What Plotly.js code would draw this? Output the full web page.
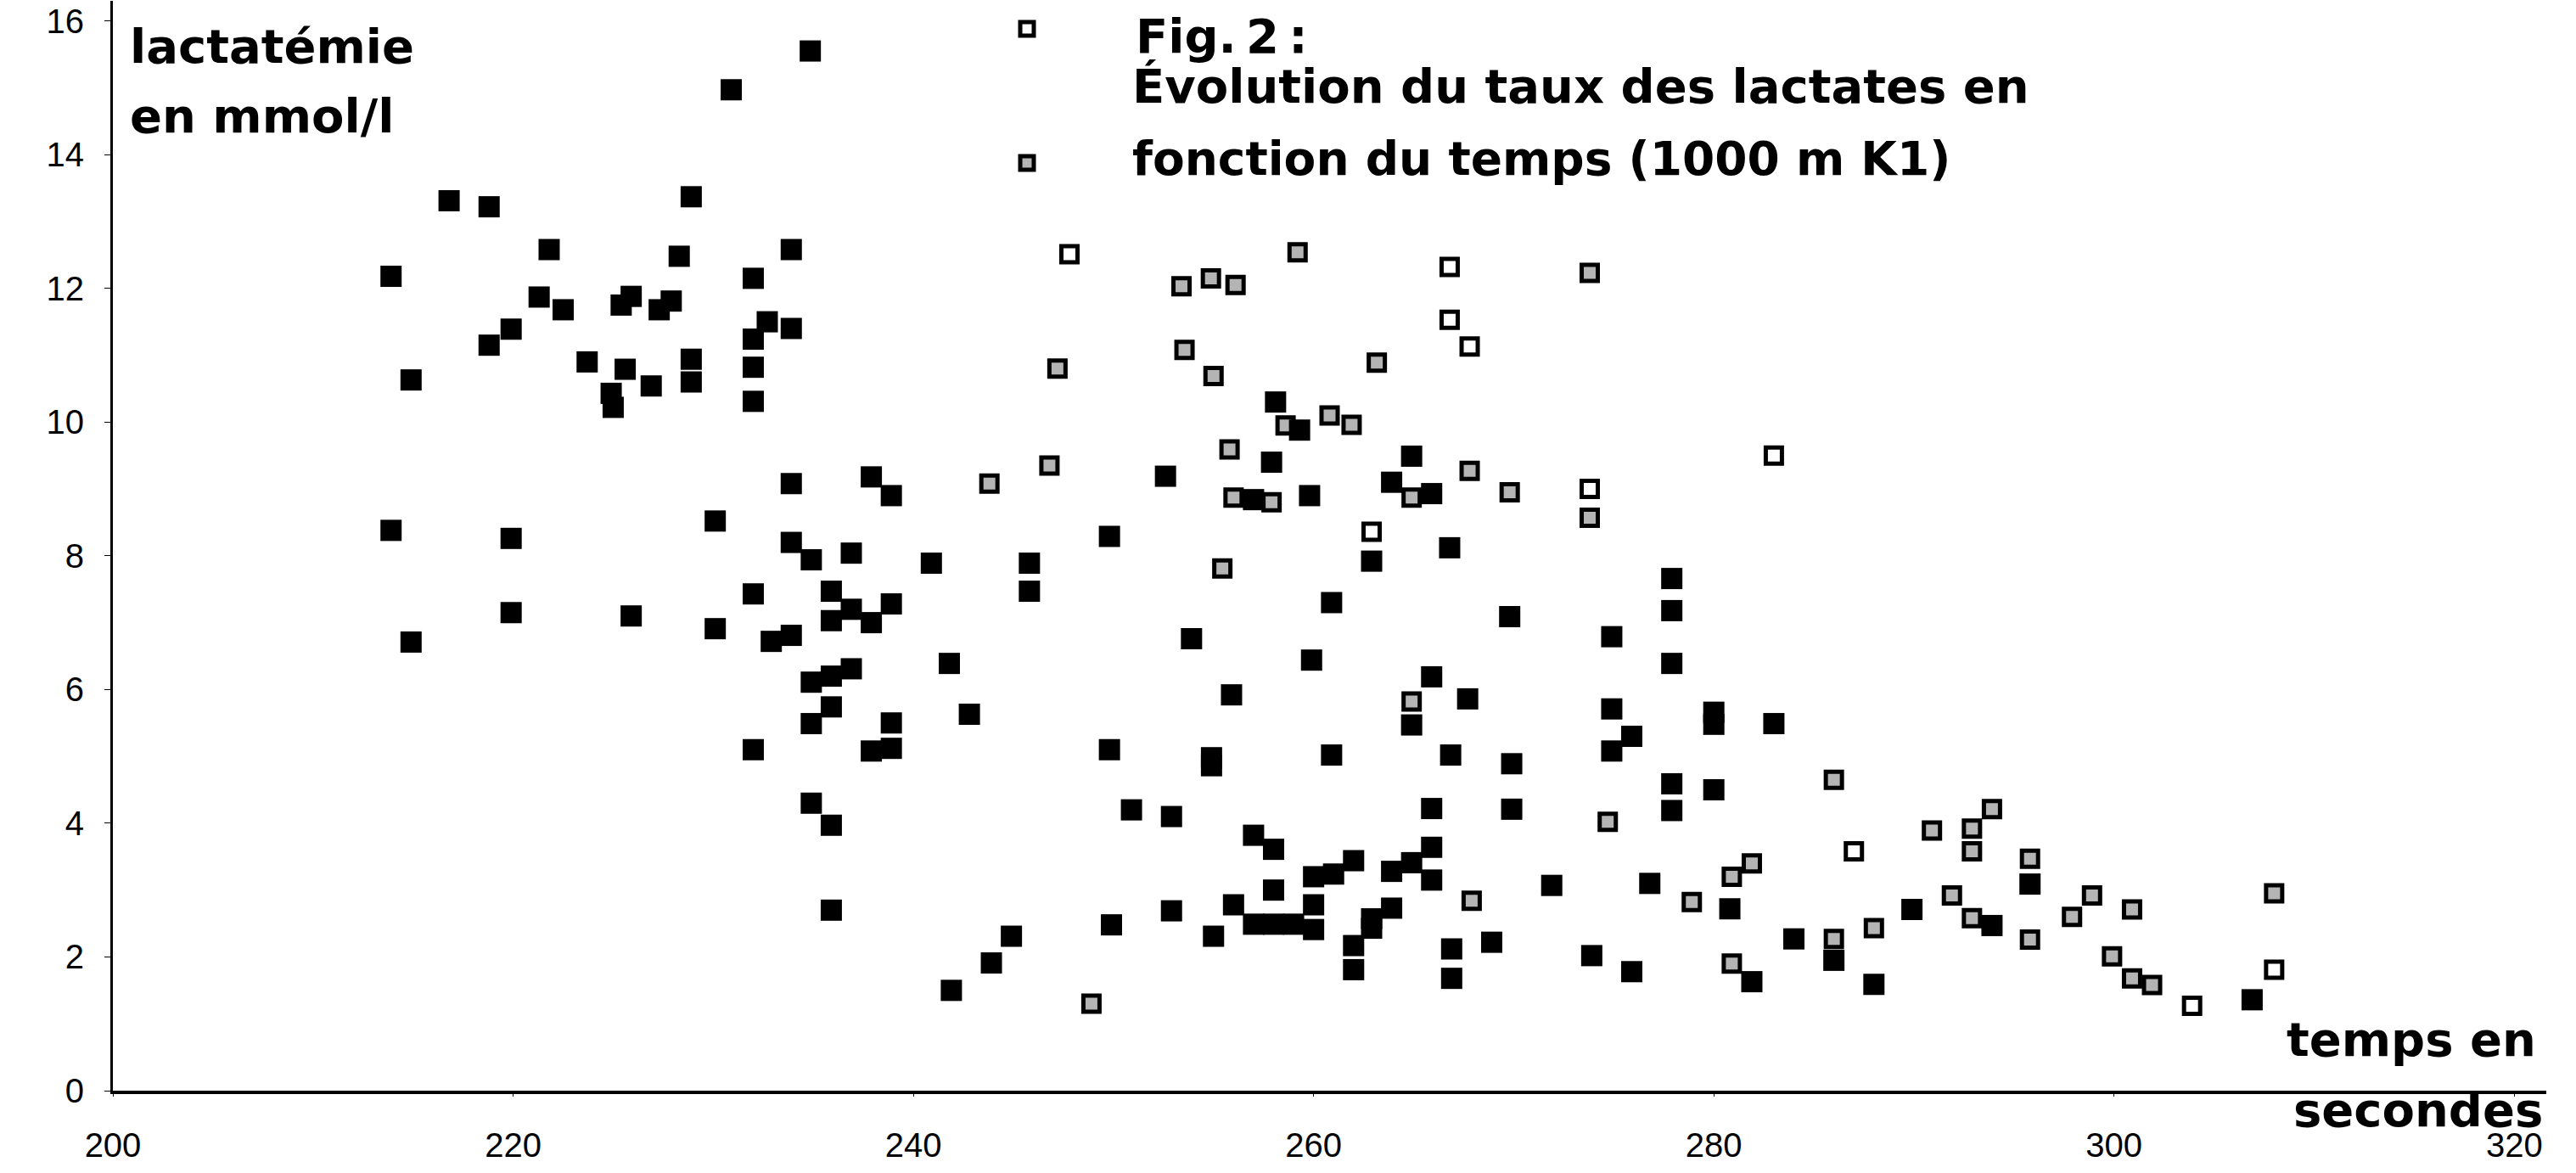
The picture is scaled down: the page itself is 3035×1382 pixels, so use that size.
<!DOCTYPE html>
<html>
<head>
<meta charset="utf-8">
<script src="https://cdn.plot.ly/plotly-3.0.1.min.js"></script>
<style>html,body{margin:0;padding:0;background:#fff;}#chart{width:3035px;height:1382px;}</style>
</head>
<body>
<div id="chart"></div>
<script>
// Filled black squares
const filledX = [213.9,214.9,213.9,214.9,216.8,218.8,218.8,219.9,219.9,219.9,221.3,221.8,222.5,223.7,224.9,225.0,225.4,225.9,225.6,225.9,226.9,227.3,227.9,228.3,228.9,228.9,228.9,230.1,230.1,230.9,232.0,232.0,232.0,232.0,232.0,232.0,232.7,232.9,233.9,233.9,233.9,233.9,233.9,234.85,234.9,234.9,234.9,234.9,235.9,235.9,235.9,235.9,235.9,235.9,236.9,236.9,236.9,237.9,237.9,237.9,238.9,238.9,238.9,238.9,240.9,241.8,241.9,242.8,243.9,244.9,245.8,245.8,249.8,249.8,249.9,250.9,252.6,252.9,252.9,253.9,254.9,254.9,255.0,255.9,256.0,257.0,257.0,257.0,258.0,258.0,258.0,257.9,258.1,259.0,259.3,259.8,259.9,260.0,260.0,260.0,260.9,260.9,261.0,262.0,262.0,262.0,262.9,262.9,262.9,263.9,263.9,263.9,264.9,264.9,264.9,265.9,265.9,265.9,265.9,265.9,266.8,266.85,266.9,266.9,267.7,268.9,269.8,269.9,269.9,271.9,273.9,274.9,274.9,274.9,275.9,275.9,276.8,277.9,277.9,277.9,277.9,277.9,280.0,280.0,280.0,280.8,281.9,283.0,284.0,286.0,288.0,289.9,293.9,295.8,306.9];
const filledY = [12.18,10.63,8.38,6.71,13.31,13.22,11.15,11.39,8.26,7.15,11.87,12.58,11.68,10.9,10.43,10.22,11.75,11.88,10.79,7.1,10.54,11.68,11.81,12.48,13.37,10.94,10.6,8.52,6.91,14.97,12.15,11.24,10.82,10.31,7.43,5.1,11.5,6.72,12.58,11.4,9.08,8.2,6.81,15.55,7.94,6.11,5.49,4.3,7.47,7.03,6.2,5.74,3.97,2.7,8.04,7.2,6.31,9.18,7.0,5.08,8.9,7.28,5.5,5.12,7.89,6.39,1.5,5.63,1.91,2.31,7.89,7.47,8.29,5.1,2.48,4.2,9.19,4.1,2.69,6.76,4.98,4.86,2.31,5.92,2.78,3.82,8.84,2.49,3.61,3.0,2.49,9.4,10.3,2.49,9.88,8.9,6.44,3.2,2.78,2.41,7.3,5.02,3.24,3.44,2.17,1.81,7.92,2.57,2.43,9.1,3.28,2.73,9.49,5.47,3.41,8.93,6.19,4.22,3.64,3.15,8.12,5.02,2.12,1.68,5.86,2.22,7.09,4.89,4.21,3.07,2.02,6.79,5.71,5.08,5.3,1.78,3.1,7.66,7.18,6.39,4.59,4.19,5.66,5.48,4.5,2.72,1.63,5.49,2.27,1.95,1.59,2.71,2.47,3.09,1.36];

// Hollow squares, patterned (grey) interior
const patX = [247.2,246.8,243.8,248.9,253.4,253.55,254.87,256.1,255.0,255.8,255.44,256.0,257.9,259.2,258.6,260.8,261.9,263.16,264.9,264.9,267.8,267.9,269.8,273.8,273.8,274.7,278.9,280.9,281.9,280.9,286.0,286.0,288.0,290.9,291.9,292.9,292.9,292.9,293.9,295.8,295.8,297.9,298.9,299.9,300.9,300.9,301.9,308.0];
const patY = [10.8,9.35,9.08,1.3,12.03,11.08,12.15,12.05,10.69,9.59,7.81,8.87,8.8,12.54,9.95,10.1,9.96,10.89,8.87,5.82,9.27,2.84,8.95,12.23,8.57,4.02,2.82,3.2,3.4,1.9,4.65,2.27,2.43,3.89,2.92,3.92,3.58,2.58,4.21,3.47,2.26,2.6,2.92,2.01,2.71,1.68,1.58,2.95];

// Hollow squares, white interior
const whiteX = [247.8,266.8,266.8,267.8,283.0,273.8,262.9,287.0,303.9,308.0];
const whiteY = [12.51,12.32,11.53,11.13,9.5,9.0,8.36,3.58,1.27,1.81];

const xTicks = [200,220,240,260,280,300,320];
const yTicks = [0,2,4,6,8,10,12,14,16];

const titleLines = ["Fig.&#8201;2&#8201;:", "Évolution du taux des lactates en", "fonction du temps (1000 m K1)"];
const yTitleLines = ["lactatémie", "en mmol/l"];
const xTitleLines = ["temps en", "secondes"];

const bold = "DejaVu Sans, Arial Black, sans-serif";

const traces = [
  {type:'scatter', mode:'markers', x: whiteX, y: whiteY, name:' ', legendgroup:'a',
   marker:{symbol:'square', size:19, color:'#ffffff', line:{color:'#000', width:5}}, hoverinfo:'x+y'},
  {type:'scatter', mode:'markers', x: patX, y: patY, name:' ', legendgroup:'b',
   marker:{symbol:'square', size:19, color:'#b4b4b4', line:{color:'#000', width:5}}, hoverinfo:'x+y'},
  {type:'scatter', mode:'markers', x: filledX, y: filledY, name:' ', showlegend:false,
   marker:{symbol:'square', size:25, color:'#000', line:{width:0}}, hoverinfo:'x+y'}
];

function px2x(px){ return (px-133)/2867; }
function px2y(py){ return (1285-py)/1284; }

const annotations = [
  {text:titleLines[0], x:px2x(1336), y:px2y(43), xanchor:'left', yanchor:'middle'},
  {text:titleLines[1], x:px2x(1332), y:px2y(102), xanchor:'left', yanchor:'middle'},
  {text:titleLines[2], x:px2x(1332), y:px2y(187), xanchor:'left', yanchor:'middle', size:55},
  {text:yTitleLines[0], x:px2x(151), y:px2y(55), xanchor:'left', yanchor:'middle'},
  {text:yTitleLines[1], x:px2x(151), y:px2y(136), xanchor:'left', yanchor:'middle'},
  {text:xTitleLines[0], x:px2x(2990), y:px2y(1224), xanchor:'right', yanchor:'middle'},
  {text:xTitleLines[1], x:px2x(2998), y:px2y(1307), xanchor:'right', yanchor:'middle'}
].map(a => {
  const fs = a.size || 56; delete a.size;
  return Object.assign({xref:'paper', yref:'paper', showarrow:false,
   font:{family:bold, size:fs, color:'#000', weight:'bold'}}, a);
});
annotations.forEach(a => { a.text = '<b>' + a.text + '</b>'; });

const layout = {
  width:3035, height:1382,
  margin:{l:133, r:35, t:1, b:97, pad:0},
  paper_bgcolor:'#fff', plot_bgcolor:'#fff',
  showlegend:true,
  legend:{x:px2x(1190), y:px2y(8), xanchor:'left', yanchor:'top', traceorder:'grouped',
          tracegroupgap:116, font:{size:30, family:bold}, bgcolor:'rgba(0,0,0,0)', itemwidth:30},
  xaxis:{range:[200,321.6], tickvals:xTicks, ticktext:xTicks.map(String), showgrid:false, zeroline:false,
         showline:true, linecolor:'#000', linewidth:4, ticks:'outside', ticklen:3, tickcolor:'#000',
         ticklabelstandoff:23, tickfont:{family:'Liberation Sans, Arial, sans-serif', size:40, color:'#000'}},
  yaxis:{range:[0,16.3], tickvals:yTicks, ticktext:yTicks.map(String), showgrid:false, zeroline:false,
         showline:true, linecolor:'#000', linewidth:3, ticks:'outside', ticklen:7, tickcolor:'#000',
         ticklabelstandoff:16, tickfont:{family:'Liberation Sans, Arial, sans-serif', size:40, color:'#000'}},
  annotations: annotations
};

Plotly.newPlot('chart', traces, layout, {displayModeBar:false, staticPlot:true});
</script>
</body>
</html>
